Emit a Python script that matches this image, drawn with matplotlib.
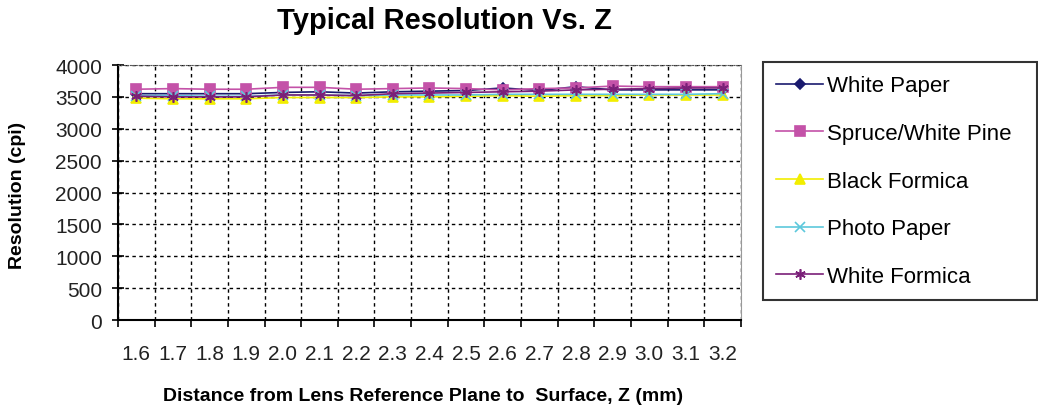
import numpy as np
import matplotlib.pyplot as plt
from matplotlib.ticker import FixedLocator, NullFormatter, FixedFormatter

plt.rcParams['font.family'] = ['Liberation Sans', 'DejaVu Sans']

# distance Z (mm) categories
z_labels = ['1.6', '1.7', '1.8', '1.9', '2.0', '2.1', '2.2', '2.3', '2.4',
            '2.5', '2.6', '2.7', '2.8', '2.9', '3.0', '3.1', '3.2']

# resolution (cpi)
white_paper = [3550, 3550, 3550, 3550, 3570, 3580, 3560, 3580, 3590,
               3600, 3640, 3600, 3660, 3610, 3610, 3610, 3610]
spruce_pine = [3620, 3630, 3620, 3620, 3650, 3650, 3620, 3630, 3640,
               3630, 3610, 3630, 3640, 3670, 3660, 3660, 3660]
black_formica = [3480, 3470, 3470, 3470, 3490, 3490, 3490, 3500, 3500,
                 3510, 3520, 3510, 3520, 3520, 3530, 3530, 3530]
photo_paper = [3520, 3520, 3510, 3510, 3530, 3530, 3520, 3530, 3530,
               3530, 3540, 3540, 3540, 3540, 3540, 3540, 3550]
white_formica = [3510, 3500, 3500, 3500, 3530, 3530, 3520, 3550, 3560,
                 3570, 3580, 3590, 3610, 3620, 3630, 3640, 3640]

series = [
    ('White Paper', white_paper, '#1a1a6e', 'D', 5.5),
    ('Spruce/White Pine', spruce_pine, '#c452a8', 's', 7),
    ('Black Formica', black_formica, '#f2ee00', '^', 7.5),
    ('Photo Paper', photo_paper, '#5cc8dc', 'x', 6.5),
    ('White Formica', white_formica, '#7a1f78', (6, 2, 0), 7.5),
]

fig = plt.figure(figsize=(10.38, 4.10), dpi=100)
ax = fig.add_axes([0.1137, 0.217, 0.6, 0.622])

x = np.arange(len(z_labels))
for name, vals, col, mk, ms in series:
    ax.plot(x, vals, color=col, lw=1.2, marker=mk, markersize=ms,
            markerfacecolor=col, markeredgecolor=col, markeredgewidth=1.2,
            label=name)

ax.set_xlim(-0.5, len(z_labels) - 0.5)
ax.set_ylim(0, 4000)
ax.set_yticks(np.arange(0, 4001, 500))

# category axis: ticks on boundaries, labels in the middle
ax.xaxis.set_major_locator(FixedLocator(np.arange(-0.5, len(z_labels), 1.0)))
ax.xaxis.set_major_formatter(NullFormatter())
ax.xaxis.set_minor_locator(FixedLocator(x))
ax.xaxis.set_minor_formatter(FixedFormatter(z_labels))
ax.tick_params(axis='x', which='major', direction='out', length=5, width=1.2)
ax.tick_params(axis='x', which='minor', length=0, pad=17, labelsize=15,
               labelcolor='#222222')
ax.tick_params(axis='y', direction='inout', length=9, width=1.2, pad=7,
               labelsize=15, labelcolor='#222222')

ax.grid(True, which='major', color='black', lw=1.0, linestyle=(0, (2.5, 2.5)))
ax.set_axisbelow(True)

ax.spines['left'].set_linewidth(1.5)
ax.spines['bottom'].set_linewidth(1.5)
ax.spines['top'].set_color('#555555')
ax.spines['top'].set_linestyle(':')
ax.spines['right'].set_color('#999999')

fig.text(0.428, 0.948, 'Typical Resolution Vs. Z', ha='center', va='center',
         fontsize=21, fontweight='bold')
fig.text(0.017, 0.524, 'Resolution (cpi)', ha='center', va='center',
         rotation=90, fontsize=14, fontweight='bold')
fig.text(0.408, 0.032, 'Distance from Lens Reference Plane to  Surface, Z (mm)',
         ha='center', va='center', fontsize=14, fontweight='bold')

leg = fig.legend(loc='upper left', bbox_to_anchor=(0.735, 0.846, 0.264, 0.0),
                 mode='expand', fontsize=16, frameon=True, fancybox=False,
                 edgecolor='black', handlelength=2.1, handletextpad=0.2,
                 labelspacing=1.2, borderpad=0.6, borderaxespad=0)
leg.get_frame().set_linewidth(1.5)

fig.savefig('out.png', dpi=100)
